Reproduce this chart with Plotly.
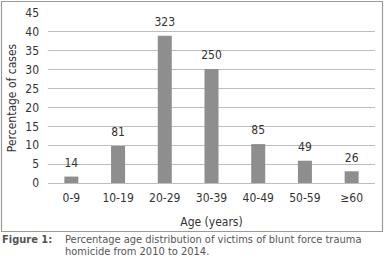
import plotly.graph_objects as go

categories = ["0-9", "10-19", "20-29", "30-39", "40-49", "50-59", "\u226560"]
percentages = [1.7, 9.8, 39.0, 30.2, 10.3, 5.9, 3.1]
counts = [14, 81, 323, 250, 85, 49, 26]
y_ticks = [0, 5, 10, 15, 20, 25, 30, 35, 40, 45]

FONT = "DejaVu Sans Condensed, Liberation Sans Narrow, Roboto, sans-serif"
W, H = 385, 270
L, R, T, B = 48, 10, 13, 87
pw, ph = W - L - R, H - T - B

def px(x):
    return (x - L) / pw

def py(y):
    return (H - B - y) / ph

fig = go.Figure()
fig.add_trace(go.Bar(
    x=categories, y=percentages,
    marker=dict(color="#8e8e8e", line=dict(width=0)),
))
fig.add_trace(go.Scatter(
    x=categories, y=percentages, mode="markers+text",
    marker=dict(size=9, opacity=0),
    text=[str(c) for c in counts], textposition="top center",
    textfont=dict(family=FONT, size=12, color="#333333"),
    cliponaxis=False, hoverinfo="skip",
))

fig.update_layout(
    width=W, height=H,
    margin=dict(l=L, r=R, t=T, b=B),
    paper_bgcolor="white", plot_bgcolor="white",
    bargap=0.7,
    showlegend=False,
    font=dict(family=FONT, size=12, color="#333333"),
    xaxis=dict(
        showgrid=False, showline=False, ticks="", automargin=False,
        ticklabelstandoff=6,
        tickfont=dict(family=FONT, size=12, color="#333333"),
        title=dict(text="Age (years)", font=dict(family=FONT, size=12, color="#333333"), standoff=13),
    ),
    yaxis=dict(
        range=[0, 45], tickvals=y_ticks, showgrid=True, gridcolor="#bdbdbd", gridwidth=1,
        zeroline=True, zerolinecolor="#bdbdbd", zerolinewidth=1, automargin=False,
        showline=False, ticks="", ticklabelstandoff=8,
        tickfont=dict(family=FONT, size=12, color="#333333"),
        title=dict(text="Percentage of cases", font=dict(family=FONT, size=12, color="#333333"), standoff=6),
    ),
    shapes=[dict(
        type="rect", xref="paper", yref="paper",
        x0=px(1.5), x1=px(382.5), y0=py(231.5), y1=py(1.5),
        line=dict(color="#9a9a9a", width=1.2), fillcolor="rgba(0,0,0,0)", layer="below",
    )],
    annotations=[
        dict(text="<b>Figure 1:</b>", xref="paper", yref="paper", x=px(0), y=py(239),
             xanchor="left", yanchor="middle", showarrow=False,
             font=dict(family=FONT, size=11, color="#555555")),
        dict(text="Percentage age distribution of victims of blunt force trauma",
             xref="paper", yref="paper", x=px(63), y=py(239),
             xanchor="left", yanchor="middle", showarrow=False,
             font=dict(family=FONT, size=11, color="#555555")),
        dict(text="homicide from 2010 to 2014.",
             xref="paper", yref="paper", x=px(63), y=py(252),
             xanchor="left", yanchor="middle", showarrow=False,
             font=dict(family=FONT, size=11, color="#555555")),
    ],
)

fig.write_html("out.html", config={"displayModeBar": False},
               post_script="document.body.style.margin='0';")
